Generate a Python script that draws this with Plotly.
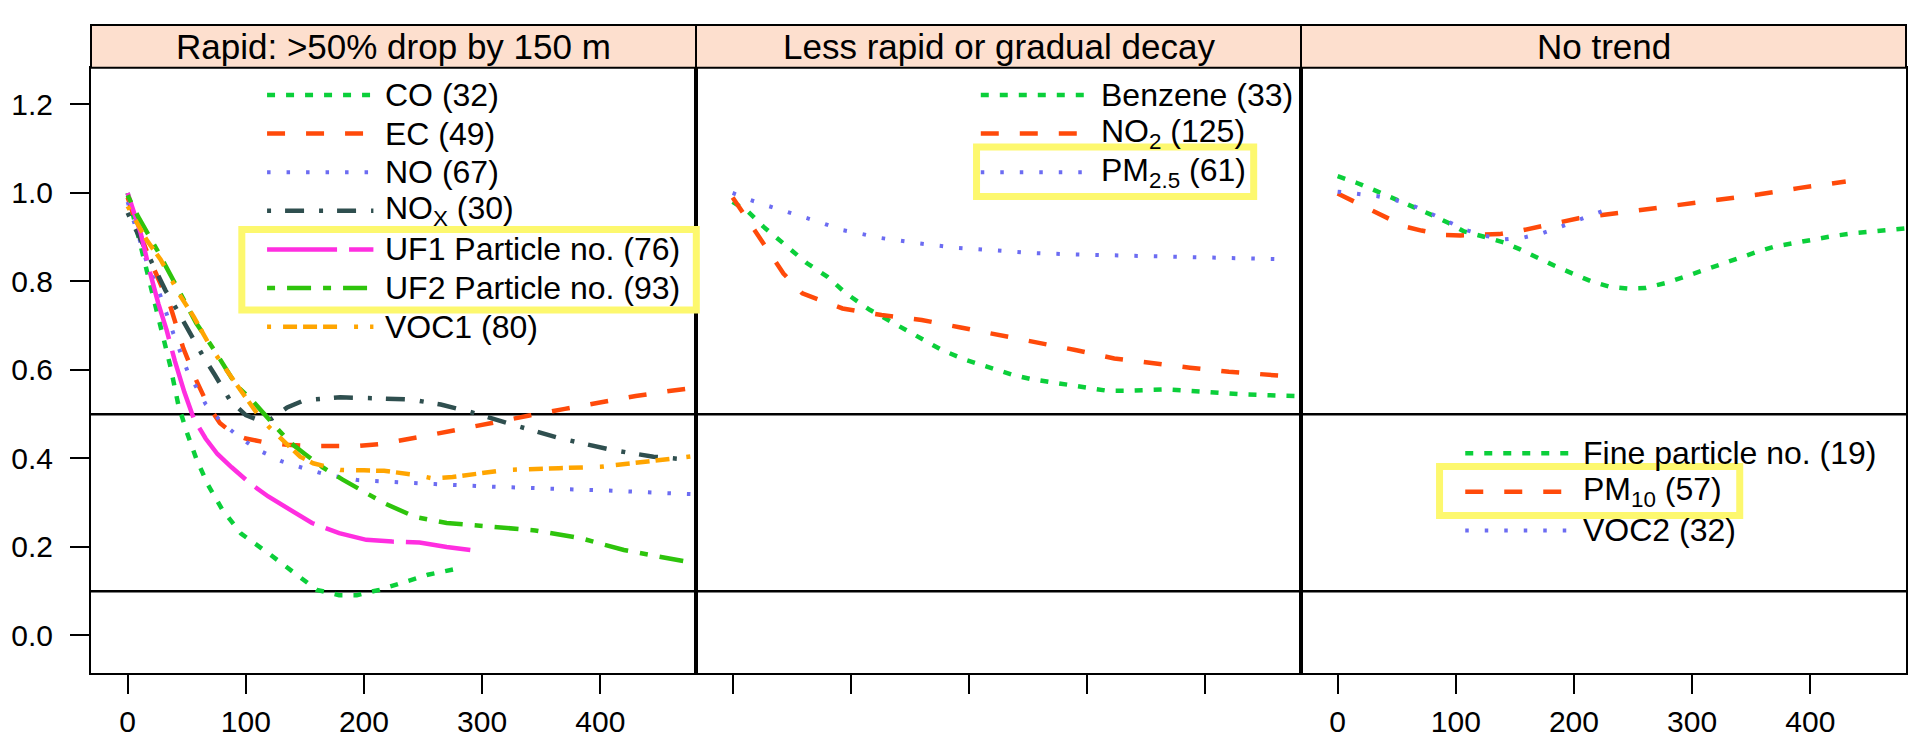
import plotly.graph_objects as go

# ---------------- data ----------------
panel_titles = ["Rapid: >50% drop by 150 m", "Less rapid or gradual decay", "No trend"]
x_ticks = [0, 100, 200, 300, 400]
y_ticks = [0.0, 0.2, 0.4, 0.6, 0.8, 1.0, 1.2]
ref_levels = [0.5, 0.1]

# Panel 1 – rapid decay
co_x = [0, 10, 20, 28, 36, 43, 50, 58, 68, 80, 96, 119, 138, 160, 179, 194, 213, 232, 254, 277]
co_y = [1.0, 0.89, 0.79, 0.70, 0.61, 0.52, 0.46, 0.40, 0.34, 0.285, 0.23, 0.186, 0.148, 0.103, 0.091, 0.091, 0.103, 0.119, 0.137, 0.15]
ec_x = [0, 10, 22, 36, 47, 58, 68, 78, 90, 100, 115, 135, 155, 175, 195, 215, 235, 260, 285, 310, 340, 370, 400, 430, 460, 480]
ec_y = [0.99, 0.91, 0.83, 0.745, 0.65, 0.577, 0.52, 0.48, 0.455, 0.445, 0.437, 0.431, 0.428, 0.427, 0.428, 0.433, 0.442, 0.455, 0.468, 0.482, 0.497, 0.512, 0.527, 0.541, 0.553, 0.56]
no_x = [0, 16, 28, 39, 51, 66, 80, 95, 110, 130, 150, 170, 195, 220, 260, 310, 360, 410, 460, 480]
no_y = [0.98, 0.845, 0.766, 0.68, 0.595, 0.523, 0.48, 0.447, 0.42, 0.394, 0.377, 0.362, 0.351, 0.347, 0.342, 0.336, 0.332, 0.327, 0.321, 0.319]
nox_x = [0, 8, 20, 32, 42, 53, 64, 74, 87, 100, 112, 122, 135, 150, 180, 210, 240, 265, 290, 325, 365, 410, 445, 475]
nox_y = [0.955, 0.91, 0.845, 0.78, 0.735, 0.683, 0.63, 0.588, 0.53, 0.498, 0.485, 0.49, 0.515, 0.532, 0.538, 0.536, 0.533, 0.522, 0.505, 0.477, 0.446, 0.419, 0.404, 0.397]
uf1_x = [0, 11, 19, 26, 33, 40, 48, 56, 66, 76, 88, 103, 119, 138, 156, 179, 202, 224, 247, 270, 290]
uf1_y = [1.0, 0.91, 0.82, 0.75, 0.69, 0.62, 0.55, 0.49, 0.445, 0.41, 0.38, 0.345, 0.314, 0.284, 0.254, 0.231, 0.216, 0.212, 0.21, 0.2, 0.193]
uf2_x = [0, 9, 25, 42, 58, 75, 92, 104, 115, 126, 137, 150, 165, 182, 200, 217, 243, 270, 307, 345, 383, 420, 450, 481]
uf2_y = [0.995, 0.946, 0.871, 0.788, 0.706, 0.638, 0.565, 0.535, 0.503, 0.47, 0.437, 0.41, 0.38, 0.352, 0.325, 0.299, 0.268, 0.254, 0.246, 0.237, 0.22, 0.193, 0.178, 0.163]
voc1_x = [0, 16, 28, 44, 56, 70, 84, 98, 110, 120, 134, 146, 157, 166, 180, 200, 217, 243, 258, 275, 290, 320, 365, 400, 440, 473, 481]
voc1_y = [0.97, 0.894, 0.849, 0.77, 0.72, 0.653, 0.598, 0.545, 0.5, 0.47, 0.434, 0.404, 0.389, 0.384, 0.374, 0.373, 0.372, 0.363, 0.355, 0.358, 0.363, 0.374, 0.378, 0.381, 0.393, 0.404, 0.406]

# Panel 2 – less rapid or gradual decay
benz_x = [0, 13, 26, 43, 63, 80, 96, 116, 136, 156, 177, 197, 217, 237, 253, 283, 317, 333, 350, 367, 397, 430, 464, 479]
benz_y = [0.98, 0.958, 0.924, 0.886, 0.841, 0.811, 0.773, 0.736, 0.706, 0.675, 0.645, 0.623, 0.605, 0.589, 0.579, 0.566, 0.553, 0.553, 0.555, 0.556, 0.551, 0.545, 0.542, 0.541]
no2_x = [0, 13, 26, 43, 59, 70, 93, 126, 160, 193, 226, 256, 290, 323, 354, 387, 420, 454, 478]
no2_y = [0.99, 0.939, 0.886, 0.818, 0.773, 0.762, 0.739, 0.724, 0.713, 0.696, 0.679, 0.662, 0.645, 0.626, 0.615, 0.605, 0.596, 0.589, 0.584]
pm25_x = [0, 15, 31, 46, 63, 78, 93, 110, 126, 158, 190, 223, 256, 290, 323, 357, 390, 420, 454, 470]
pm25_y = [1.0, 0.984, 0.97, 0.958, 0.943, 0.93, 0.916, 0.907, 0.898, 0.886, 0.876, 0.87, 0.864, 0.861, 0.859, 0.858, 0.856, 0.854, 0.853, 0.85]

# Panel 3 – no trend
fine_x = [0, 17, 34, 51, 64, 80, 94, 107, 124, 141, 154, 167, 184, 197, 214, 230, 246, 260, 277, 294, 310, 324, 337, 354, 370, 387, 404, 420, 437, 454, 472, 481]
fine_y = [1.038, 1.022, 1.003, 0.984, 0.969, 0.95, 0.932, 0.913, 0.901, 0.888, 0.873, 0.856, 0.835, 0.82, 0.801, 0.788, 0.784, 0.785, 0.796, 0.811, 0.826, 0.839, 0.852, 0.866, 0.879, 0.888, 0.895, 0.903, 0.909, 0.914, 0.918, 0.92]
pm10_x = [0, 11, 29, 41, 57, 71, 91, 104, 124, 137, 157, 171, 191, 204, 224, 241, 261, 291, 324, 357, 390, 430]
pm10_y = [0.999, 0.984, 0.962, 0.943, 0.924, 0.915, 0.905, 0.904, 0.907, 0.907, 0.916, 0.924, 0.937, 0.943, 0.95, 0.956, 0.963, 0.973, 0.986, 0.997, 1.011, 1.026]
voc2_x = [0, 17, 33, 49, 65, 80, 94, 109, 125, 141, 157, 173, 189, 204, 220, 235]
voc2_y = [1.003, 0.998, 0.993, 0.984, 0.97, 0.952, 0.935, 0.916, 0.903, 0.895, 0.899, 0.909, 0.924, 0.94, 0.955, 0.969]

labels_p1 = ["CO (32)", "EC (49)", "NO (67)", "NO<sub>X</sub> (30)",
             "UF1 Particle no. (76)", "UF2 Particle no. (93)", "VOC1 (80)"]
labels_p2 = ["Benzene (33)", "NO<sub>2</sub> (125)", "PM<sub>2.5</sub> (61)"]
labels_p3 = ["Fine particle no. (19)", "PM<sub>10</sub> (57)", "VOC2 (32)"]

# ---------------- styles ----------------
GREEN = "#0BCF3A"
GREEN2 = "#2EC40C"
RED = "#FF4A0A"
BLUE = "#6C6CF2"
SLATE = "#2F4F4F"
MAGENTA = "#FF2EE0"
ORANGE = "#FFA500"
STRIP = "#FDDFCE"
YELLOW = "#FDF86E"

DOT_G = "8px,11px"
DASH_R = "18px,21px"
DOT_B = "3.5px,16px"
DOTDASH = "4px,14px,19px,15px"
LONGDASH = "70px,12px"
TWODASH = "8px,12px,24px,12px"
VOCDASH = "4px,12px,14px,6px,14px,6px,14px,17px"

series = [
    (1, labels_p1[0], co_x, co_y, GREEN, DOT_G, 4.5),
    (1, labels_p1[1], ec_x, ec_y, RED, DASH_R, 4.5),
    (1, labels_p1[2], no_x, no_y, BLUE, DOT_B, 4),
    (1, labels_p1[3], nox_x, nox_y, SLATE, DOTDASH, 4.5),
    (1, labels_p1[4], uf1_x, uf1_y, MAGENTA, LONGDASH, 4.5),
    (1, labels_p1[5], uf2_x, uf2_y, GREEN2, TWODASH, 4.5),
    (1, labels_p1[6], voc1_x, voc1_y, ORANGE, VOCDASH, 4.5),
    (2, labels_p2[0], benz_x, benz_y, GREEN, DOT_G, 4.5),
    (2, labels_p2[1], no2_x, no2_y, RED, DASH_R, 4.5),
    (2, labels_p2[2], pm25_x, pm25_y, BLUE, DOT_B, 4),
    (3, labels_p3[0], fine_x, fine_y, GREEN, DOT_G, 4.5),
    (3, labels_p3[1], pm10_x, pm10_y, RED, DASH_R, 4.5),
    (3, labels_p3[2], voc2_x, voc2_y, BLUE, DOT_B, 4),
]

X_RANGE = [-31, 481]
Y_RANGE = [-0.085, 1.283]
Y_TOP = 0.934          # top of the panels (strips above)
FONT = "Liberation Sans, Arial, sans-serif"

# legend key geometry per panel: (sample x0, sample x1, text x, first row y)
key_geom = {1: (118, 208, 216, 1.2215), 2: (210, 302, 310, 1.2215), 3: (108, 197, 206, 0.4117)}
ROW_STEP = 0.0873
# highlight boxes (paper coords)
boxes = [(0.0831, 0.5602, 0.3335, 0.6844), (0.4879, 0.7353, 0.6406, 0.8117), (0.743, 0.2431, 0.9084, 0.3187)]

fig = go.Figure()
for panel, name, xs, ys, col, dash, w in series:
    sfx = "" if panel == 1 else str(panel)
    fig.add_trace(go.Scatter(x=xs, y=ys, mode="lines", name=name, showlegend=False,
                             line=dict(color=col, dash=dash, width=w),
                             xaxis="x" + sfx, yaxis="y" + sfx, hoverinfo="skip"))

shapes = []
annotations = []
# legend keys
row_counter = {1: 0, 2: 0, 3: 0}
for panel, name, xs, ys, col, dash, w in series:
    sfx = "" if panel == 1 else str(panel)
    x0, x1, xt, y0 = key_geom[panel]
    yy = y0 - ROW_STEP * row_counter[panel]
    row_counter[panel] += 1
    shapes.append(dict(type="line", xref="x" + sfx, yref="y" + sfx, x0=x0, x1=x1, y0=yy, y1=yy,
                       line=dict(color=col, dash=dash, width=w)))
    annotations.append(dict(text=name, x=xt, y=yy, xref="x" + sfx, yref="y" + sfx,
                            xanchor="left", yanchor="middle", showarrow=False,
                            font=dict(size=32, color="black", family=FONT)))

# reference lines
for lv in ref_levels:
    shapes.append(dict(type="line", xref="paper", yref="y", x0=0, x1=1, y0=lv, y1=lv,
                       line=dict(color="black", width=2.5), layer="below"))

# strips
for i, title in enumerate(panel_titles):
    sfx = "" if i == 0 else str(i + 1)
    shapes.append(dict(type="rect", xref="x" + sfx + " domain", yref="paper",
                       x0=0, x1=1, y0=Y_TOP, y1=1, fillcolor=STRIP,
                       line=dict(color="black", width=2), layer="above"))
    annotations.append(dict(text=title, xref="x" + sfx + " domain", yref="paper",
                            x=0.5, y=(Y_TOP + 1) / 2, xanchor="center", yanchor="middle",
                            showarrow=False, font=dict(size=35, color="black", family=FONT)))

# highlight boxes
for bx0, by0, bx1, by1 in boxes:
    shapes.append(dict(type="rect", xref="paper", yref="paper", x0=bx0, x1=bx1, y0=by0, y1=by1,
                       line=dict(color=YELLOW, width=7), fillcolor="rgba(0,0,0,0)", layer="above"))

layout = dict(
    width=1908, height=742,
    margin=dict(l=91, r=0, t=25, b=69),
    plot_bgcolor="white", paper_bgcolor="white",
    font=dict(family=FONT, size=30, color="black"),
    showlegend=False,
    shapes=shapes, annotations=annotations,
)
doms = [[0, 1 / 3], [1 / 3, 2 / 3], [2 / 3, 1]]
for i in range(3):
    sfx = "" if i == 0 else str(i + 1)
    layout["xaxis" + sfx] = dict(
        domain=doms[i], range=X_RANGE, anchor="y" + sfx,
        tickvals=x_ticks, ticks="outside", ticklen=19, tickwidth=2, tickcolor="black",
        showticklabels=(i != 1), tickfont=dict(size=30), ticklabelstandoff=2,
        showline=True, linewidth=2, linecolor="black", mirror=True,
        showgrid=False, zeroline=False)
    layout["yaxis" + sfx] = dict(
        domain=[0, Y_TOP], range=Y_RANGE, anchor="x" + sfx,
        tickvals=y_ticks if i == 0 else [], tickformat=".1f",
        ticks="outside" if i == 0 else "", ticklen=19, tickwidth=2, tickcolor="black",
        showticklabels=(i == 0), tickfont=dict(size=30), ticklabelstandoff=11,
        showline=True, linewidth=2, linecolor="black", mirror=True,
        showgrid=False, zeroline=False)
    if i > 0:
        layout["yaxis" + sfx]["matches"] = "y"
    # top ticks above the strips
    layout["xaxis" + str(i + 4)] = dict(
        overlaying="x" + sfx, anchor="free", position=1, side="top",
        range=X_RANGE, tickvals=x_ticks, ticks="outside", ticklen=19, tickwidth=2,
        tickcolor="black", showticklabels=False, showline=False, showgrid=False,
        zeroline=False)

fig.update_layout(**layout)
fig.write_html("out.html", config={"displayModeBar": False},
               post_script="document.body.style.margin='0px';document.body.style.padding='0px';")
